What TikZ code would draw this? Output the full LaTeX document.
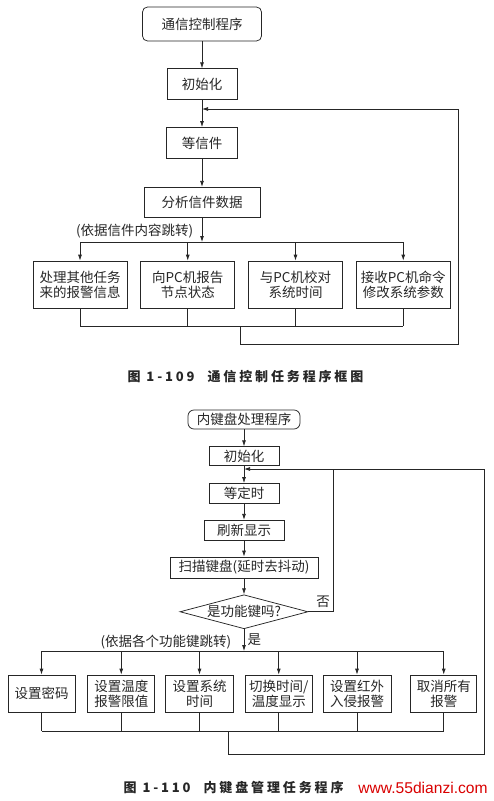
\documentclass[tikz,border=0pt]{standalone}
\usepackage{fontspec}
\setmainfont{Noto Sans CJK SC}
\newfontfamily\capfont[LetterSpace=22]{Noto Sans CJK SC}
\newfontfamily\wmfont{Liberation Sans}
\usetikzlibrary{shapes,shapes.geometric,arrows,arrows.meta,positioning,calc}

\begin{document}
\begin{tikzpicture}[x=1pt, y=1pt, color=black!85, line width=0.75pt,
    box/.style={rectangle, draw, inner sep=0pt, align=center, minimum height=31pt, font=\fontsize{13.5}{15}\selectfont},
    startbox/.style={box, rounded corners=5pt},
    task/.style={box, minimum width=94pt, minimum height=47pt},
    opt/.style={box, minimum width=67pt, minimum height=37pt},
    decide/.style={diamond, draw, inner sep=0pt, aspect=3.7, minimum width=128pt, minimum height=34pt, font=\fontsize{13.5}{15}\selectfont},
    lbl/.style={font=\fontsize{13.5}{15}\selectfont},
    caption/.style={font=\capfont\bfseries\fontsize{13}{15}\selectfont},
    arrow/.style={-{Latex[length=6pt,width=4pt]}}
  ]
    \useasboundingbox (0,0) rectangle (493,-801);

    \node[startbox, minimum width=119pt, minimum height=34pt] (start1) at (202,-24) {通信控制程序};
    \node[box, minimum width=70pt, below=27pt of start1] (init1) {初始化};
    \node[box, minimum width=71pt, below=27pt of init1] (wait1) {等信件};
    \node[box, minimum width=116pt, minimum height=30pt, below=28pt of wait1] (parse1) {分析信件数据};
    \node[task] (t1) at (80,-284.5) {处理其他任务\\来的报警信息};
    \node[task, right=13pt of t1] (t2) {向PC机报告\\节点状态};
    \node[task, right=13pt of t2] (t3) {与PC机校对\\系统时间};
    \node[task, right=13pt of t3] (t4) {接收PC机命令\\修改系统参数};
    \coordinate (fork1) at (202,-242);
    \coordinate (join1) at (240,-326);
    \coordinate (back1) at (458,-344);
    \coordinate (loop1) at (202,-109);

    \draw[arrow] (start1) -- (init1);
    \draw[arrow] (init1) -- (wait1);
    \draw[arrow] (wait1) -- (parse1);
    \draw[arrow] (parse1) -- node[lbl, left=5pt, pos=0.55] {(依据信件内容跳转)} (fork1);
    \draw (t1.north |- fork1) -- (t4.north |- fork1);
    \foreach \t in {t1,t2,t3,t4} {
      \draw[arrow] (\t.north |- fork1) -- (\t);
      \draw (\t) -- (\t.south |- join1);
    }
    \draw (t1.south |- join1) -- (t4.south |- join1);
    \draw[arrow] (join1) |- (back1) |- (loop1);
    \node[caption] (cap1) at (245.5,-377) {图 1-109\quad 通信控制任务程序框图};

    \node[startbox, rounded corners=6pt, minimum width=112pt, minimum height=19pt] (start2) at (244,-419.5) {内键盘处理程序};
    \node[box, minimum width=70pt, minimum height=19pt, below=17pt of start2] (init2) {初始化};
    \node[box, minimum width=70pt, minimum height=20pt, below=17pt of init2] (wait2) {等定时};
    \node[box, minimum width=80pt, minimum height=20pt, below=16pt of wait2] (show2) {刷新显示};
    \node[box, minimum width=148pt, minimum height=21pt, below=16pt of show2] (scan2) {扫描键盘(延时去抖动)};
    \node[decide, below=16pt of scan2] (key2) {是功能键吗?};
    \node[opt] (k1) at (41.5,-693.5) {设置密码};
    \node[opt, right=12pt of k1] (k2) {设置温度\\报警限值};
    \node[opt, minimum width=68pt, right=10pt of k2] (k3) {设置系统\\时间};
    \node[opt, right=11pt of k3] (k4) {切换时间/\\温度显示};
    \node[opt, minimum width=68pt, right=10pt of k4] (k5) {设置红外\\入侵报警};
    \node[opt, minimum width=66pt, right=19pt of k5] (k6) {取消所有\\报警};
    \coordinate (fork2) at (244,-651);
    \coordinate (join2) at (228,-731);
    \coordinate (back2) at (484,-754);
    \coordinate (loop2) at (244,-469);
    \coordinate (no2) at (333,-469);

    \draw[arrow] (start2) -- (init2);
    \draw[arrow] (init2) -- (wait2);
    \draw[arrow] (wait2) -- (show2);
    \draw[arrow] (show2) -- (scan2);
    \draw[arrow] (scan2) -- (key2);
    \draw (key2.east) -| node[lbl, above, pos=0.3] {否} (no2);
    \draw[arrow] (key2) -- node[lbl, left=9pt, pos=0.6] {(依据各个功能键跳转)} node[lbl, right, pos=0.5] {是} (fork2);
    \draw (k1.north |- fork2) -- (k6.north |- fork2);
    \foreach \k in {k1,k2,k3,k4,k5,k6} {
      \draw[arrow] (\k.north |- fork2) -- (\k);
      \draw (\k) -- (\k.south |- join2);
    }
    \draw (k1.south |- join2) -- (k6.south |- join2);
    \draw[arrow] (join2) |- (back2) |- (loop2);
    \node[caption, anchor=west] (cap2) at (120,-788) {图 1-110\quad 内键盘管理任务程序};
    \node[font=\wmfont\fontsize{15.6}{17}\selectfont, text=red!85!black] (wm) at (423,-788) {www.55dianzi.com};
  \end{tikzpicture}
\end{document}
